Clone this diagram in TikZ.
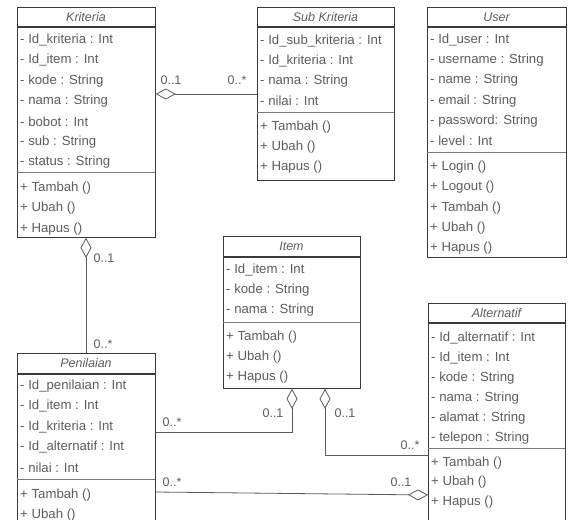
\documentclass[tikz,border=0pt]{standalone}
\usepackage{fontspec}
\setmainfont{Liberation Sans}
\usetikzlibrary{arrows.meta,calc}

\definecolor{txt}{HTML}{5E5E5E}
\definecolor{edge}{HTML}{3A3A3A}
\definecolor{rule}{HTML}{7A7A7A}
\definecolor{wire}{HTML}{5A5A5A}

\tikzset{
  classbox/.style={draw=edge, line width=0.8pt, anchor=north west, inner sep=0pt, fill=white},
  classtitle/.style={font=\fontsize{12.5}{14}\selectfont\itshape, text=txt, inner sep=0pt},
  member/.style={font=\fontsize{13.2}{15}\selectfont, text=txt, anchor=west, inner sep=0pt},
  mult/.style={font=\fontsize{12.5}{14}\selectfont, text=txt, inner sep=0pt},
  headrule/.style={draw=edge, line width=1.1pt},
  seprule/.style={draw=rule, line width=0.8pt},
  assoc/.style={draw=wire, line width=0.8pt},
  aggr/.tip={Diamond[open, length=20pt, width=11pt, line width=0.8pt]},
}

% class frame: name, left, top, right, bottom, header rule y, separator y, title
\newcommand\umlclass[8]{%
  \node[classbox, minimum width={(#4-#2)*1pt}, minimum height={(#5-#3)*1pt}] (#1) at (#2,#3) {};
  \draw[headrule] (#2,#6) -- (#4,#6);
  \draw[seprule] (#2,#7) -- (#4,#7);
  \node[classtitle] (#1-title) at ({(#2+#4)/2},{(#3+#6)/2}) {#8};
}
% member rows: prefix, left x, first row centre y, step, entries
\newcommand\umlrows[5]{%
  \foreach \m [count=\k] in {#5}
    \node[member] (#1-\k) at ({#2+3},{#3+(\k-1)*#4}) {\m};
}

\begin{document}
\begin{tikzpicture}[x=1pt, y=-1pt]
\useasboundingbox (0,0) rectangle (571,520);
\clip (0,0) rectangle (571,520);
\fill[white] (0,0) rectangle (571,520);

% Kriteria
\umlclass{kri}{17}{7}{155}{237}{27}{172}{Kriteria}
\umlrows{kri-a}{17}{40}{20.4}{- Id\_kriteria : Int, - Id\_item : Int, - kode : String, - nama : String, - bobot : Int, - sub : String, - status : String}
\umlrows{kri-m}{17}{188}{20.5}{+ Tambah (), + Ubah (), + Hapus ()}

% Sub Kriteria
\umlclass{sub}{257}{7}{394}{180}{27}{112}{Sub Kriteria}
\umlrows{sub-a}{257}{41}{20}{- Id\_sub\_kriteria : Int, - Id\_kriteria : Int, - nama : String, - nilai : Int}
\umlrows{sub-m}{257}{127}{20}{+ Tambah (), + Ubah (), + Hapus ()}

% User
\umlclass{usr}{427}{7}{566}{257}{27}{152}{User}
\umlrows{usr-a}{427}{40}{20.2}{- Id\_user : Int, - username : String, - name : String, - email : String, - password: String, - level : Int}
\umlrows{usr-m}{427}{167}{20.3}{+ Login (), + Logout (), + Tambah (), + Ubah (), + Hapus ()}

% Item
\umlclass{itm}{223}{236}{360}{388}{257}{322}{Item}
\umlrows{itm-a}{223}{270}{20}{- Id\_item : Int, - kode : String, - nama : String}
\umlrows{itm-m}{223}{337}{20}{+ Tambah (), + Ubah (), + Hapus ()}

% Penilaian
\umlclass{pen}{17}{353}{155}{535}{374}{479}{Penilaian}
\umlrows{pen-a}{17}{386}{20.5}{- Id\_penilaian : Int, - Id\_item : Int, - Id\_kriteria : Int, - Id\_alternatif : Int, - nilai : Int}
\umlrows{pen-m}{17}{495}{20}{+ Tambah (), + Ubah ()}

% Alternatif
\umlclass{alt}{428}{303}{565}{525}{323}{448}{Alternatif}
\umlrows{alt-a}{428}{338}{20}{- Id\_alternatif : Int, - Id\_item : Int, - kode : String, - nama : String, - alamat : String, - telepon : String}
\umlrows{alt-m}{428}{463}{19.5}{+ Tambah (), + Ubah (), + Hapus ()}

% associations (aggregation diamonds on the owning side)
\draw[assoc, aggr-] ($(kri.north east)+(0,87)$) -- ($(sub.north west)+(0,87)$);
\draw[assoc, aggr-] ($(kri.south west)+(69,0)$) -- ($(pen.north west)+(69,0)$);
\draw[assoc, aggr-] ($(itm.south west)+(69,0)$) |- ($(pen.north east)+(0,79)$);
\draw[assoc, aggr-] ($(itm.south west)+(102,0)$) |- ($(alt.north west)+(0,152)$);
\draw[assoc, -aggr] ($(pen.north east)+(0,139)$) -- ($(alt.north west)+(0,192)$);

% multiplicities
\node[mult] (m1) at (171,80) {0..1};
\node[mult] (m2) at (237,80) {0..*};
\node[mult] (m3) at (104,258) {0..1};
\node[mult] (m4) at (103,344) {0..*};
\node[mult] (m5) at (273,413) {0..1};
\node[mult] (m6) at (172,422) {0..*};
\node[mult] (m7) at (345,413) {0..1};
\node[mult] (m8) at (410,445) {0..*};
\node[mult] (m9) at (172,482) {0..*};
\node[mult] (m10) at (401,482) {0..1};
\end{tikzpicture}
\end{document}
